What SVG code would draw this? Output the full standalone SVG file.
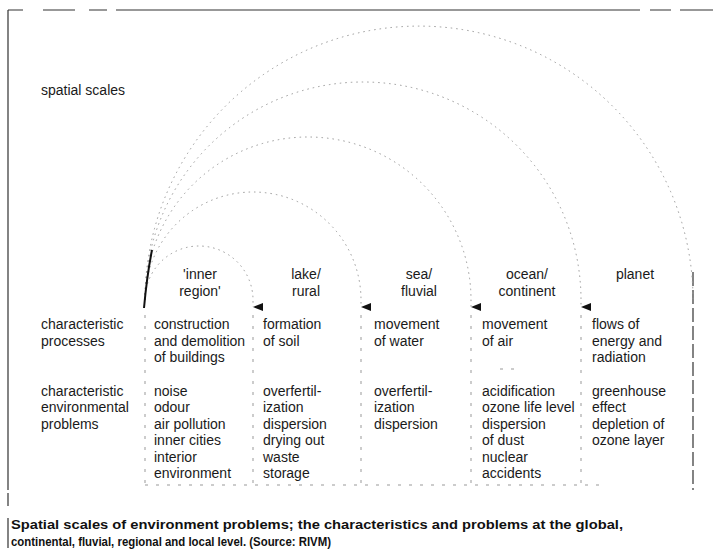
<svg xmlns="http://www.w3.org/2000/svg" width="713" height="555" viewBox="0 0 713 555">
<style>
  .t { font-family: "Liberation Sans", Arial, sans-serif; font-size: 14px; fill: #1a1a1a; }
  .c { text-anchor: middle; }
  .cap { font-family: "Liberation Sans", Arial, sans-serif; font-size: 13.5px; font-weight: bold; fill: #111; }
  .arc { fill: none; stroke: #999; stroke-width: 1; stroke-dasharray: 1.5 4; }
  .sep { fill: none; stroke: #999; stroke-width: 1; stroke-dasharray: 3 8; }
  .frame { fill: none; stroke: #333; stroke-width: 1.2; }
</style>
<defs>
  <path id="ah" d="M0,0 L10,-4 L10,4 Z" fill="#111"/>
</defs>
<rect width="713" height="555" fill="#fff"/>

<g id="frame">
  <path class="frame" d="M8,10 L23,10 M43,10 L75,10 M89,10 L107,10 M116,10 L640,10 M650,10 L671,10 M680,10 L713,10"/>
  <path class="frame" d="M8,10 L8,490 M8,493 L8,506 M8,518 L8,548"/>
  <path class="frame" d="M693,272 L693,490" stroke-dasharray="14 4"/>
  <path class="sep" d="M145,485 L600,485" stroke-dasharray="2 22"/>
  <path class="sep" d="M500,369 L520,369" stroke-dasharray="3 4"/>
</g>

<g id="connectors">
  <path class="arc" d="M145,300 A54,54 0 0 1 253,300 L253,307"/>
  <path class="arc" d="M145,300 A108,108 0 0 1 361,300 L361,307"/>
  <path class="arc" d="M145,300 A163,163 0 0 1 471,300 L471,307"/>
  <path class="arc" d="M145,300 A218,218 0 0 1 581,300 L581,307"/>
  <path class="arc" d="M145,300 A274,274 0 0 1 693,300"/>
  <path d="M152,250 Q147,275 144,308" fill="none" stroke="#111" stroke-width="2"/>
  <use href="#ah" x="253" y="307"/>
  <use href="#ah" x="361" y="307"/>
  <use href="#ah" x="471" y="307"/>
  <use href="#ah" x="581" y="307"/>
  <path class="sep" d="M145,315 L145,490"/>
  <path class="sep" d="M253,315 L253,490"/>
  <path class="sep" d="M361,315 L361,490"/>
  <path class="sep" d="M471,315 L471,490"/>
  <path class="sep" d="M581,315 L581,490"/>
</g>

<g id="row-labels">
  <text class="t" x="41" y="95">spatial scales</text>
  <text class="t" x="41" y="329">characteristic</text>
  <text class="t" x="41" y="345.5">processes</text>
  <text class="t" x="41" y="396">characteristic</text>
  <text class="t" x="41" y="412.4">environmental</text>
  <text class="t" x="41" y="428.8">problems</text>
</g>

<g id="inner-region">
  <text class="t c" x="200" y="279">'inner</text>
  <text class="t c" x="200" y="296">region'</text>
  <text class="t" x="154" y="329">construction</text>
  <text class="t" x="154" y="345.5">and demolition</text>
  <text class="t" x="154" y="362">of buildings</text>
  <text class="t" x="154" y="396">noise</text>
  <text class="t" x="154" y="412.4">odour</text>
  <text class="t" x="154" y="428.8">air pollution</text>
  <text class="t" x="154" y="445.2">inner cities</text>
  <text class="t" x="154" y="461.6">interior</text>
  <text class="t" x="154" y="478">environment</text>
</g>

<g id="lake-rural">
  <text class="t c" x="306" y="279">lake/</text>
  <text class="t c" x="306" y="296">rural</text>
  <text class="t" x="263" y="329">formation</text>
  <text class="t" x="263" y="345.5">of soil</text>
  <text class="t" x="263" y="396">overfertil-</text>
  <text class="t" x="263" y="412.4">ization</text>
  <text class="t" x="263" y="428.8">dispersion</text>
  <text class="t" x="263" y="445.2">drying out</text>
  <text class="t" x="263" y="461.6">waste</text>
  <text class="t" x="263" y="478">storage</text>
</g>

<g id="sea-fluvial">
  <text class="t c" x="419" y="279">sea/</text>
  <text class="t c" x="419" y="296">fluvial</text>
  <text class="t" x="374" y="329">movement</text>
  <text class="t" x="374" y="345.5">of water</text>
  <text class="t" x="374" y="396">overfertil-</text>
  <text class="t" x="374" y="412.4">ization</text>
  <text class="t" x="374" y="428.8">dispersion</text>
</g>

<g id="ocean-continent">
  <text class="t c" x="527" y="279">ocean/</text>
  <text class="t c" x="527" y="296">continent</text>
  <text class="t" x="482" y="329">movement</text>
  <text class="t" x="482" y="345.5">of air</text>
  <text class="t" x="482" y="396">acidification</text>
  <text class="t" x="482" y="412.4">ozone life level</text>
  <text class="t" x="482" y="428.8">dispersion</text>
  <text class="t" x="482" y="445.2">of dust</text>
  <text class="t" x="482" y="461.6">nuclear</text>
  <text class="t" x="482" y="478">accidents</text>
</g>

<g id="planet">
  <text class="t c" x="635" y="279">planet</text>
  <text class="t" x="592" y="329">flows of</text>
  <text class="t" x="592" y="345.5">energy and</text>
  <text class="t" x="592" y="362">radiation</text>
  <text class="t" x="592" y="396">greenhouse</text>
  <text class="t" x="592" y="412.4">effect</text>
  <text class="t" x="592" y="428.8">depletion of</text>
  <text class="t" x="592" y="445.2">ozone layer</text>
</g>

<g id="caption">
  <text class="cap" x="11" y="529" textLength="612" lengthAdjust="spacingAndGlyphs">Spatial scales of environment problems; the characteristics and problems at the global,</text>
  <text class="cap" x="11" y="546" textLength="320" lengthAdjust="spacingAndGlyphs">continental, fluvial, regional and local level. (Source: RIVM)</text>
</g>
</svg>
